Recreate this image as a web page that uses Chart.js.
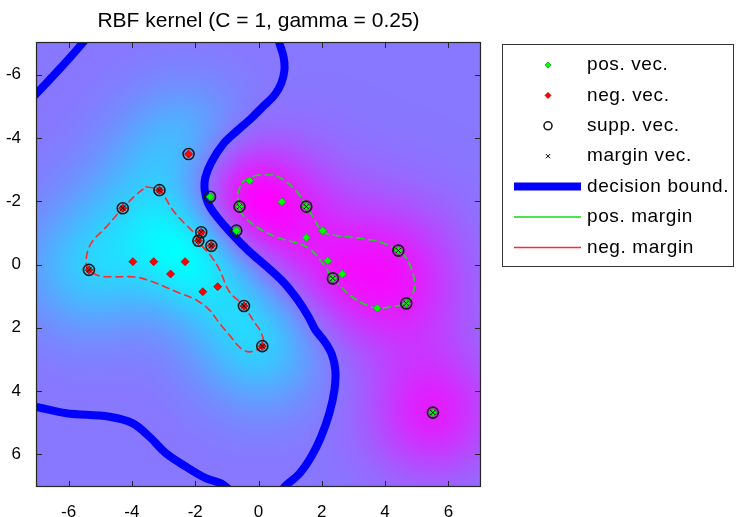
<!DOCTYPE html>
<html>
<head>
<meta charset="utf-8">
<script src="https://cdn.jsdelivr.net/npm/chart.js@4.4.1/dist/chart.umd.min.js"></script>
<style>
html,body{margin:0;padding:0;background:#ffffff;overflow:hidden;}
#box{position:relative;width:737px;height:517px;}
</style>
</head>
<body>
<div id="box"><canvas id="chart"></canvas></div>
<script>
// ---------------- data ----------------
const chartTitle = 'RBF kernel (C = 1, gamma = 0.25)';
const xTickValues = [-6, -4, -2, 0, 2, 4, 6];
const yTickValues = [-6, -4, -2, 0, 2, 4, 6];
const legendLabels = ['pos. vec.', 'neg. vec.', 'supp. vec.', 'margin vec.', 'decision bound.', 'pos. margin', 'neg. margin'];

const posX = [-1.53, -0.70, -0.60, 1.51, -0.28, 0.74, 2.03, 1.51, 2.19, 2.65, 2.35, 4.42, 4.67, 3.75, 5.51];
const posY = [-2.14, -1.07, -1.83, -1.83, -2.65, -1.98, -1.07, -0.85, -0.12, 0.30, 0.44, -0.44, 1.23, 1.38, 4.68];

const negX = [-3.13, -4.29, -5.36, -1.81, -1.90, -1.49, -0.46, 0.12, -2.21, -3.97, -3.31, -2.32, -2.78, -1.29, -1.76];
const negY = [-2.35, -1.78, 0.17, -1.02, -0.75, -0.59, 1.31, 2.58, -3.49, -0.09, -0.09, -0.09, 0.30, 0.70, 0.86];

// support vectors, their labels and estimated dual weights (alpha, 0..C)
const suppX = [-1.53, -0.70, -0.60, 1.51, 2.35, 4.42, 4.67, 5.51, -3.13, -4.29, -5.36, -1.81, -1.90, -1.49, -0.46, 0.12, -2.21];
const suppY = [-2.14, -1.07, -1.83, -1.83, 0.44, -0.44, 1.23, 4.68, -2.35, -1.78, 0.17, -1.02, -0.75, -0.59, 1.31, 2.58, -3.49];
const suppLabel = [1, 1, 1, 1, 1, 1, 1, 1, -1, -1, -1, -1, -1, -1, -1, -1, -1];
const suppAlpha = [1.00, 1.00, 0.99, 0.30, 0.72, 0.50, 0.56, 0.98, 0.14, 0.31, 0.83, 1.00, 0.62, 1.00, 0.36, 0.81, 1.00];
const bias = -0.005;
const kernelGamma = 0.25;

const marginVecX = [-0.60, 1.51, 2.35, 4.42, 4.67, 5.51, -3.13, -4.29, -5.36, -1.81, -1.90, -1.49, -0.46, 0.12];
const marginVecY = [-1.83, -1.83, 0.44, -0.44, 1.23, 4.68, -2.35, -1.78, 0.17, -1.02, -0.75, -0.59, 1.31, 2.58];

const boundTopLeftX = [-7.2, -7.0, -6.61, -6.23, -5.91, -5.56, -5.39];
const boundTopLeftY = [-5.21, -5.42, -5.83, -6.24, -6.59, -7.0, -7.2];
const boundMainX = [0.62, 0.66, 0.79, 0.82, 0.72, 0.51, 0.14, -0.23, -0.65, -1.12, -1.48, -1.68, -1.70, -1.60, -1.36, -0.86, -0.30, 0.30, 0.82, 1.24, 1.58, 1.80, 2.10, 2.32, 2.43, 2.40, 2.24, 1.98, 1.67, 1.30, 0.85, 0.72];
const boundMainY = [-7.2, -7.0, -6.57, -6.15, -5.73, -5.36, -4.99, -4.62, -4.25, -3.8, -3.25, -2.75, -2.35, -1.95, -1.57, -0.99, -0.42, 0.10, 0.59, 1.12, 1.65, 2.07, 2.45, 2.85, 3.35, 3.97, 4.70, 5.44, 6.07, 6.60, 7.0, 7.15];
const boundBottomLeftX = [-7.2, -6.98, -6.08, -4.71, -3.97, -3.45, -2.92, -2.29, -1.65, -1.18, -0.95];
const boundBottomLeftY = [4.48, 4.51, 4.70, 4.81, 5.02, 5.44, 5.97, 6.39, 6.76, 6.92, 7.1];

const posMarginX = [-0.50, -0.13, 0.24, 0.56, 0.93, 1.30, 1.51, 1.72, 1.93, 2.14, 2.56, 2.98, 3.40, 3.82, 4.42, 4.67, 4.88, 4.93, 4.83, 4.67, 4.24, 3.75, 3.30, 2.88, 2.56, 2.35, 2.14, 1.82, 1.51, 1.08, 0.66, 0.14, -0.28, -0.50, -0.60, -0.65, -0.50];
const posMarginY = [-2.62, -2.80, -2.83, -2.80, -2.57, -2.20, -1.83, -1.51, -1.14, -0.99, -0.90, -0.86, -0.80, -0.72, -0.44, -0.20, 0.28, 0.70, 1.02, 1.23, 1.33, 1.38, 1.23, 0.96, 0.65, 0.44, 0.12, -0.30, -0.56, -0.72, -0.83, -1.07, -1.35, -1.56, -1.83, -2.25, -2.62];

const negMarginX = [-3.55, -3.13, -2.71, -2.39, -2.08, -1.76, -1.49, -1.23, -0.92, -0.46, -0.18, 0.09, 0.14, -0.28, -0.60, -0.92, -1.23, -1.55, -1.97, -2.60, -3.23, -3.87, -4.60, -5.03, -5.36, -5.45, -5.29, -4.81, -4.29, -3.87, -3.55];
const negMarginY = [-2.46, -2.35, -1.72, -1.35, -1.04, -0.56, -0.25, 0.17, 0.86, 1.31, 1.75, 2.17, 2.55, 2.76, 2.61, 2.23, 1.86, 1.44, 1.12, 0.86, 0.59, 0.40, 0.39, 0.36, 0.17, -0.14, -0.67, -1.19, -1.78, -2.20, -2.46];

// ---------------- helpers ----------------
const FONT = "'Liberation Sans', Arial, Helvetica, sans-serif";
const pts = (xs, ys) => xs.map((v, i) => ({x: v, y: ys[i]}));

function decision(x, y) {
  let f = bias;
  for (let k = 0; k < suppX.length; k++) {
    const dx = x - suppX[k], dy = y - suppY[k];
    f += suppAlpha[k]*suppLabel[k]*Math.exp(-kernelGamma*(dx*dx + dy*dy));
  }
  return f;
}

// background: decision value image, 'cool' colour map scaled to its min..max
const heatmapPlugin = {
  id: 'heatmap',
  beforeDatasetsDraw(chart) {
    const {ctx, chartArea: a, scales: {x, y}} = chart;
    const w = Math.round(a.right - a.left), h = Math.round(a.bottom - a.top);
    if (!chart.$heat || chart.$heat.width !== w || chart.$heat.height !== h) {
      const vals = new Float32Array(w*h);
      let mn = Infinity, mx = -Infinity;
      for (let j = 0; j < h; j++) {
        const yv = y.getValueForPixel(a.top + j + 0.5);
        for (let i = 0; i < w; i++) {
          const f = decision(x.getValueForPixel(a.left + i + 0.5), yv);
          vals[j*w + i] = f; if (f < mn) mn = f; if (f > mx) mx = f;
        }
      }
      const off = document.createElement('canvas'); off.width = w; off.height = h;
      const octx = off.getContext('2d'); const img = octx.createImageData(w, h);
      for (let p = 0; p < w*h; p++) {
        const t = (vals[p] - mn)/(mx - mn);
        img.data[p*4] = Math.round(255*t); img.data[p*4+1] = Math.round(255*(1-t)); img.data[p*4+2] = 255; img.data[p*4+3] = 255;
      }
      octx.putImageData(img, 0, 0); chart.$heat = off;
    }
    ctx.drawImage(chart.$heat, a.left, a.top);
  }
};

const framePlugin = {
  id: 'frame',
  afterDatasetsDraw(chart) {
    const {ctx, chartArea: a, scales: {x, y}} = chart;
    ctx.save();
    ctx.strokeStyle = '#262626'; ctx.lineWidth = 1.2;
    ctx.strokeRect(a.left - 0.5, a.top - 0.5, a.right - a.left + 1, a.bottom - a.top + 1);
    ctx.lineWidth = 1; ctx.beginPath();
    xTickValues.forEach(v => { const px = Math.round(x.getPixelForValue(v)) + 0.5;
      ctx.moveTo(px, a.bottom); ctx.lineTo(px, a.bottom - 5); ctx.moveTo(px, a.top); ctx.lineTo(px, a.top + 5); });
    yTickValues.forEach(v => { const py = Math.round(y.getPixelForValue(v)) + 0.5;
      ctx.moveTo(a.left, py); ctx.lineTo(a.left + 5, py); ctx.moveTo(a.right, py); ctx.lineTo(a.right - 5, py); });
    ctx.stroke(); ctx.restore();
  }
};

const titlePlugin = {
  id: 'mtitle',
  afterDraw(chart) {
    const {ctx, chartArea: a} = chart;
    ctx.save(); ctx.fillStyle = '#000'; ctx.font = '21px ' + FONT; ctx.textAlign = 'center'; ctx.textBaseline = 'middle';
    ctx.fillText(chartTitle, (a.left + a.right)/2, 21); ctx.restore();
  }
};

const legendPlugin = {
  id: 'mlegend',
  afterDraw(chart) {
    const ctx = chart.ctx; const ds = chart.data.datasets;
    ctx.save();
    ctx.fillStyle = '#fff'; ctx.fillRect(502.5, 44.5, 231, 222);
    ctx.strokeStyle = '#333'; ctx.lineWidth = 1; ctx.strokeRect(502.5, 44.5, 231, 222);
    const rowY = i => 65 + i*30.4;
    const sx = 548, lx0 = 514, lx1 = 581, tx = 587;
    [ds[5], ds[6], ds[7], ds[8]].forEach((d, i) => {
      ctx.fillStyle = d.backgroundColor; ctx.strokeStyle = d.borderColor; ctx.lineWidth = d.borderWidth;
      Chart.helpers.drawPoint(ctx, {pointStyle: d.pointStyle, radius: d.legendRadius, rotation: 0, borderWidth: d.borderWidth}, sx, rowY(i));
    });
    [ds[0], ds[3], ds[4]].forEach((d, k) => {
      const i = 4 + k; ctx.strokeStyle = d.borderColor; ctx.lineWidth = d.legendWidth; ctx.setLineDash([]);
      ctx.beginPath(); ctx.moveTo(lx0, rowY(i)); ctx.lineTo(lx1, rowY(i)); ctx.stroke();
    });
    ctx.fillStyle = '#000'; ctx.font = '19px ' + FONT; ctx.textAlign = 'left'; ctx.textBaseline = 'middle';
    if ('letterSpacing' in ctx) ctx.letterSpacing = '0.6px';
    legendLabels.forEach((t, i) => ctx.fillText(t, tx, rowY(i)));
    ctx.restore();
  }
};

const lineDs = (label, xs, ys, color, width, dash, legendWidth) => ({
  label, type: 'line', data: pts(xs, ys), showLine: true, borderColor: color, borderWidth: width,
  borderDash: dash, pointRadius: 0, tension: 0.35, fill: false, clip: 0, order: 10, legendWidth,
  borderCapStyle: 'round', borderJoinStyle: 'round'
});

const datasets = [
  lineDs('decision bound.', boundMainX, boundMainY, '#0000ff', 8, [], 8),
  lineDs('decision bound. (2)', boundTopLeftX, boundTopLeftY, '#0000ff', 8, [], 8),
  lineDs('decision bound. (3)', boundBottomLeftX, boundBottomLeftY, '#0000ff', 8, [], 8),
  lineDs('pos. margin', posMarginX, posMarginY, '#11dd11', 1.6, [7, 5], 1.5),
  lineDs('neg. margin', negMarginX, negMarginY, '#ff2a2a', 1.6, [7, 5], 1.5),
  {label: 'pos. vec.', data: pts(posX, posY), pointStyle: 'rectRot', pointRadius: 4, backgroundColor: '#00ff00', borderColor: '#00b000', borderWidth: 0.8, legendRadius: 3, order: 4},
  {label: 'neg. vec.', data: pts(negX, negY), pointStyle: 'rectRot', pointRadius: 4, backgroundColor: '#ff0000', borderColor: '#c00000', borderWidth: 0.8, legendRadius: 3, order: 3},
  {label: 'supp. vec.', data: pts(suppX, suppY), pointStyle: 'circle', pointRadius: 5.5, backgroundColor: 'rgba(0,0,0,0)', borderColor: '#1a1a1a', borderWidth: 1.6, legendRadius: 4, order: 2},
  {label: 'margin vec.', data: pts(marginVecX, marginVecY), pointStyle: 'crossRot', pointRadius: 3.5, backgroundColor: 'rgba(0,0,0,0)', borderColor: '#000000', borderWidth: 1, legendRadius: 3, order: 1}
];

new Chart(document.getElementById('chart'), {
  type: 'scatter',
  data: {datasets},
  options: {
    responsive: true, maintainAspectRatio: false, animation: false, events: [],
    layout: {padding: {left: 0, right: 257, top: 43, bottom: 0}},
    plugins: {legend: {display: false}, tooltip: {enabled: false}, title: {display: false}},
    scales: {
      x: {type: 'linear', min: -7, max: 7, grid: {display: false}, border: {display: false},
          ticks: {padding: 8, color: '#000', font: {family: FONT, size: 17}, maxRotation: 0, callback: v => String(v)},
          afterBuildTicks: s => { s.ticks = xTickValues.map(v => ({value: v})); },
          afterFit: s => { s.height = 31; }},
      y: {type: 'linear', min: -7, max: 7, reverse: true, grid: {display: false}, border: {display: false},
          ticks: {padding: 8, color: '#000', font: {family: FONT, size: 17}, callback: v => String(v)},
          afterBuildTicks: s => { s.ticks = yTickValues.map(v => ({value: v})); },
          afterFit: s => { s.width = 37; }}
    }
  },
  plugins: [heatmapPlugin, framePlugin, titlePlugin, legendPlugin]
});
</script>
</body>
</html>
